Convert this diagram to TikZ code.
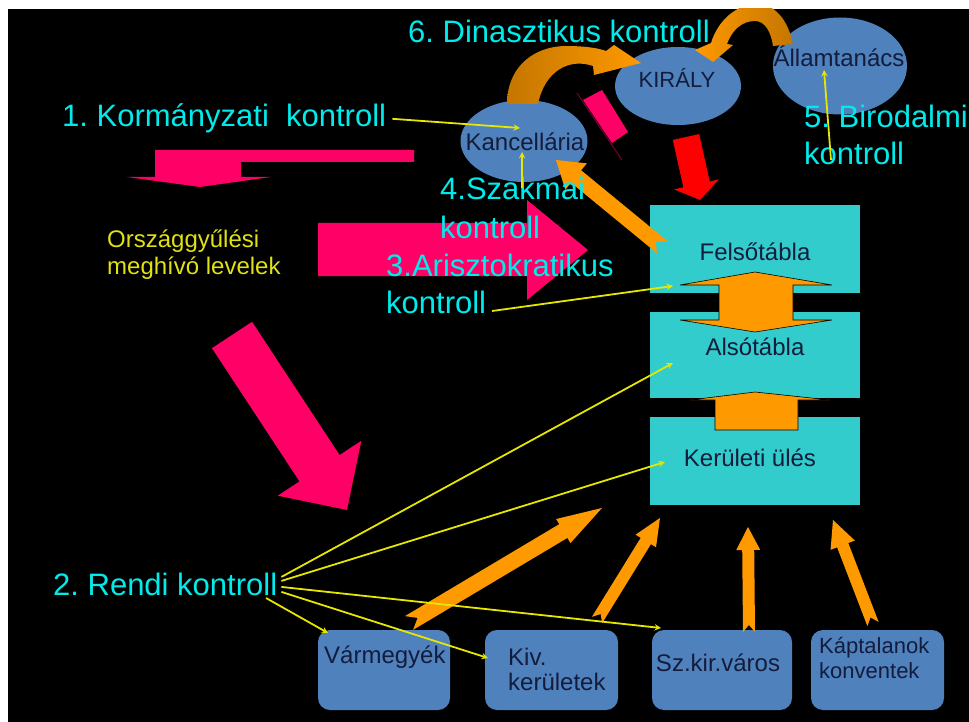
\documentclass[tikz,border=0pt]{standalone}
\usepackage{fontspec}
\setmainfont{Liberation Sans}
\usetikzlibrary{calc,shapes.geometric,positioning}
\definecolor{lblcyan}{RGB}{0,235,235}
\definecolor{ptryellow}{RGB}{230,230,0}
\definecolor{txtyellow}{RGB}{225,225,20}
\definecolor{ovalblue}{RGB}{79,129,189}
\definecolor{chamberteal}{RGB}{51,204,204}
\definecolor{hotpink}{RGB}{255,0,102}
\definecolor{deeppink}{RGB}{120,0,50}
\definecolor{arrorange}{RGB}{255,153,0}
\definecolor{darkorange}{RGB}{196,118,0}
\definecolor{navytext}{RGB}{20,28,60}
\frenchspacing
\tikzset{
	lbl/.style={
		text=lblcyan,
		font=\fontsize{31}{37}\selectfont,
		inner sep=0pt,
		align=left
	},
	invite/.style={
		text=txtyellow,
		font=\fontsize{24}{27}\selectfont,
		inner sep=0pt,
		align=left
	},
	oval/.style={
		ellipse,
		fill=ovalblue,
		inner sep=0pt
	},
	ovaltext/.style={
		text=navytext,
		font=\fontsize{24}{28}\selectfont,
		inner sep=0pt
	},
	chamber/.style={
		rectangle,
		fill=chamberteal,
		minimum width=210pt,
		minimum height=88pt,
		inner sep=0pt
	},
	county/.style={
		rectangle,
		rounded corners=12pt,
		fill=ovalblue,
		minimum height=80pt,
		inner sep=0pt
	},
	boxtext/.style={
		text=navytext,
		font=\fontsize{24}{25}\selectfont,
		inner sep=0pt,
		align=left
	},
	pointer/.style={
		draw=ptryellow,
		line width=1.8pt,
		->,
		>=stealth
	},
	orangefill/.style={
		fill=arrorange
	},
}
% block arrow: tail, tip, shaft half width, head half width, head length, style
\newcommand{\blockarrow}[6]{
	\coordinate (ba) at ($(#2)!#5!(#1)$);
	\path[#6] ($(#1)!#3!90:(#2)$) -- ($(ba)!#3!90:(#2)$) -- ($(ba)!#4!90:(#2)$) -- (#2)
		-- ($(ba)!#4!-90:(#2)$) -- ($(ba)!#3!-90:(#2)$) -- ($(#1)!#3!-90:(#2)$) -- cycle;
}
% same with a notched tail (notch depth #7)
\newcommand{\notcharrow}[7]{
	\coordinate (ba) at ($(#2)!#5!(#1)$);
	\path[#6] ($(#1)!#3!90:(#2)$) -- ($(ba)!#3!90:(#2)$) -- ($(ba)!#4!90:(#2)$) -- (#2)
		-- ($(ba)!#4!-90:(#2)$) -- ($(ba)!#3!-90:(#2)$) -- ($(#1)!#3!-90:(#2)$)
		-- ($(#1)!#7!(#2)$) -- cycle;
}

\begin{document}
\begin{tikzpicture}[x=1pt,y=-1pt]
	\useasboundingbox[fill=white] (0,0) rectangle (969,722);
	\begin{scope}
	\clip (8,9) rectangle (969,722);
	\fill[black] (8,9) rectangle (969,722);

	% pink arrows
	\fill[hotpink] (414,150) -- (155,150) -- (155,177) -- (127,177) -- (200,187) -- (271,177)
		-- (241,177) -- (241,162) -- (414,162) -- cycle;
	\fill[hotpink] (318,223) -- (527,223) -- (527,200) -- (588,250) -- (527,300) -- (527,276)
		-- (318,276) -- cycle;
	\coordinate (diag-tail) at (232,335);
	\coordinate (diag-tip) at (347,510);
	\blockarrow{diag-tail}{diag-tip}{24pt}{50pt}{50pt}{fill=hotpink}
	\draw[deeppink, line width=1pt] (577,93) -- (622,160);
	\fill[hotpink] (583,100) -- (602,90) -- (628,132) -- (612,143) -- cycle;

	% ovals
	\node[oval, minimum width=127pt, minimum height=82pt] (kanc) at (524,141) {};
	\node[oval, minimum width=126pt, minimum height=78pt] (kiraly) at (678,86) {};
	\node[oval, minimum width=134pt, minimum height=97pt] (allam) at (840,66) {};

	% chambers
	\node[chamber] (felso) at (755,249) {};
	\node[chamber, minimum height=86pt] (also) at (755,355) {};
	\node[chamber] (kerul) at (755,461) {};

	% county boxes
	\node[county, minimum width=132pt] (varm) at (384,670) {};
	\node[county, minimum width=133pt] (kiv) at (551.5,670) {};
	\node[county, minimum width=140pt] (szkir) at (722,670) {};
	\node[county, minimum width=133pt] (kapt) at (877.5,670) {};

	% red and orange block arrows
	\coordinate (kir-out) at (686,137);
	\coordinate (felso-in) at (700,200);
	\blockarrow{kir-out}{felso-in}{13.5pt}{23pt}{16pt}{fill=red}
	\coordinate (felso-out) at (662,247);
	\coordinate (kanc-in) at (556,160);
	\notcharrow{felso-out}{kanc-in}{8pt}{17pt}{26pt}{orangefill}{8pt}

	\path[orangefill, draw=black, line width=0.6pt] (755,272) -- (832,285) -- (793,285) -- (793,320)
		-- (832,320) -- (755,332) -- (680,320) -- (719,320) -- (719,285) -- (680,285) -- cycle;
	\path[orangefill, draw=black, line width=0.6pt] (755,392) -- (830,400) -- (798,400) -- (798,430)
		-- (715,430) -- (715,400) -- (690,400) -- cycle;

	\coordinate (varm-out) at (409,623);
	\coordinate (kerul-in1) at (602,508);
	\notcharrow{varm-out}{kerul-in1}{8pt}{14pt}{45pt}{orangefill}{10pt}
	\coordinate (kiv-out) at (597,620);
	\coordinate (kerul-in2) at (660,518);
	\notcharrow{kiv-out}{kerul-in2}{6pt}{12pt}{27pt}{orangefill}{7pt}
	\coordinate (szkir-out) at (749,632);
	\coordinate (kerul-in3) at (748,527);
	\notcharrow{szkir-out}{kerul-in3}{6pt}{12pt}{23pt}{orangefill}{7pt}
	\coordinate (kapt-out) at (873,624);
	\coordinate (kerul-in4) at (833,520);
	\notcharrow{kapt-out}{kerul-in4}{6pt}{13pt}{27pt}{orangefill}{7pt}

	% curved arrows to the king
	\shade[left color=darkorange, right color=arrorange] (507,104) .. controls (507,70) and (530,47) .. (565,46)
		.. controls (585,46) and (598,48) .. (606,51) -- (614,45) -- (641,63) -- (594,75) -- (593,66)
		.. controls (570,58) and (545,70) .. (538,104) -- cycle;
	\shade[left color=arrorange, right color=darkorange] (793,44) .. controls (788,20) and (775,4) .. (757,4)
		.. controls (737,4) and (718,20) .. (711,43) -- (695,50) -- (713,62) -- (733,45) -- (727,44)
		.. controls (732,30) and (742,21) .. (755,21) .. controls (765,21) and (771,32) .. (773,46) -- cycle;

	% texts
	\node[ovaltext] (kanc-t) at (525,142) {Kancellária};
	\node[ovaltext, font=\fontsize{22}{26}\selectfont] (kiraly-t) at (677,78) {KIRÁLY};
	\node[ovaltext] (allam-t) at (839,56) {Államtanács};
	\node[boxtext] (felso-t) at (755,252) {Felsőtábla};
	\node[boxtext] (also-t) at (755,347) {Alsótábla};
	\node[boxtext] (kerul-t) at (750,458) {Kerületi ülés};
	\node[boxtext, anchor=west] (varm-t) at (324,657) {Vármegyék};
	\node[boxtext, anchor=west] (kiv-t) at (508,669) {Kiv.\\kerületek};
	\node[boxtext] (szkir-t) at (718,663) {Sz.kir.város};
	\node[boxtext, anchor=west, font=\fontsize{22}{25}\selectfont] (kapt-t) at (819,658) {Káptalanok\\konventek};

	\node[lbl, anchor=base west] (dinast) at (408,43) {6. Dinasztikus kontroll};
	\node[lbl, anchor=base west] (korm) at (62,127) {1. Kormányzati\ \ kontroll};
	\node[lbl, anchor=base west] (rendi) at (53,595) {2. Rendi kontroll};
	\node[lbl, anchor=west] (arisz) at (386,284) {3.Arisztokratikus\\kontroll};
	\node[lbl, anchor=west, font=\fontsize{31}{39}\selectfont] (szak) at (440,208) {4.Szakmai\\kontroll};
	\node[lbl, anchor=west] (biro) at (804,135) {5. Birodalmi\\kontroll};
	\node[invite, anchor=west] (meghivo) at (107,255) {Országgyűlési\\meghívó levelek};

	% yellow pointers
	\coordinate (kanc-mark) at (520,128);
	\coordinate (szak-from) at (522,188);
	\coordinate (kanc-low) at (522,152);
	\coordinate (biro-from) at (831,160);
	\coordinate (allam-mark) at (824,70);
	\coordinate (arisz-from) at (492,311);
	\coordinate (felso-mark) at (673,286);
	\coordinate (also-mark) at (673,363);
	\coordinate (kerul-mark) at (665,462);
	\coordinate (szkir-mark) at (661,628);
	\coordinate (kiv-mark) at (488,658);
	\coordinate (rendi-low) at (266,598);
	\coordinate (varm-mark) at (328,633);
	\draw[pointer] ([xshift=6pt]korm.east) -- (kanc-mark);
	\draw[pointer] (szak-from) -- (kanc-low);
	\draw[pointer] (biro-from) -- (allam-mark);
	\draw[pointer] (arisz-from) -- (felso-mark);
	\draw[pointer] ([shift={(4,-7)}]rendi.east) -- (also-mark);
	\draw[pointer] ([shift={(4,-3)}]rendi.east) -- (kerul-mark);
	\draw[pointer] ([shift={(4,3)}]rendi.east) -- (szkir-mark);
	\draw[pointer] ([shift={(4,8)}]rendi.east) -- (kiv-mark);
	\draw[pointer] (rendi-low) -- (varm-mark);
	\end{scope}
\end{tikzpicture}
\end{document}
